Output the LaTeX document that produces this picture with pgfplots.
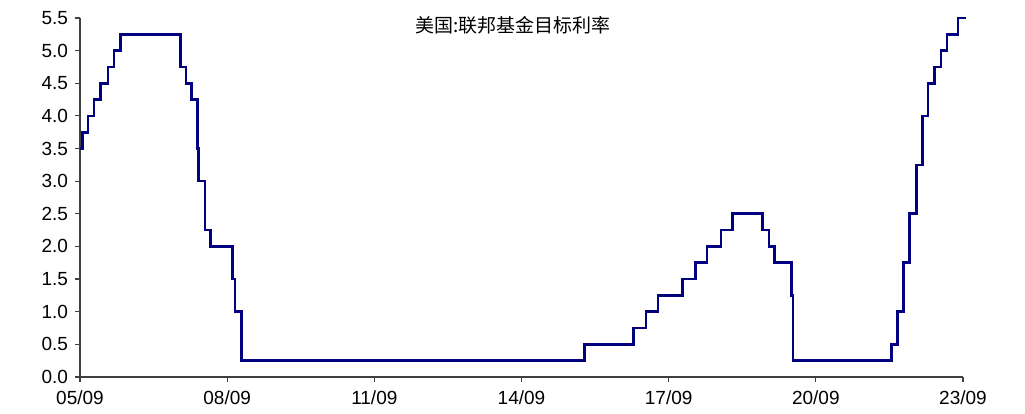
\documentclass[border=0pt]{standalone}
\usepackage{pgfplots}
\pgfplotsset{compat=1.18}
\usepackage{fontspec}
\setmainfont{Liberation Sans}
\newfontfamily\cjk{Noto Sans CJK SC}
\definecolor{navyline}{HTML}{000080}
\definecolor{axgray}{HTML}{404040}
\begin{document}
\begin{tikzpicture}
\begin{axis}[
  width=441.5pt, height=179.5pt, scale only axis,
  xmin=2005.667, xmax=2023.667, ymin=0, ymax=5.5,
  axis x line*=bottom, axis y line*=left,
  axis line style={axgray, line width=0.6pt},
  tick style={axgray, line width=0.6pt},
  tick align=outside, major tick length=2.5pt,
  xtick={2005.667,2008.667,2011.667,2014.667,2017.667,2020.667,2023.667},
  xticklabels={05/09,08/09,11/09,14/09,17/09,20/09,23/09},
  ytick={0,0.5,...,5.5},
  yticklabel style={/pgf/number format/.cd, fixed, fixed zerofill, precision=1},
  /pgf/number format/assume math mode=true,
  ticklabel style={font=\fontsize{9.5}{11}\selectfont},
  xticklabel style={yshift=-1pt},
  clip=false,
]
\addplot[const plot, navyline, line width=1.3pt] coordinates {
(2005.667,3.50) (2005.719,3.75) (2005.833,4.00) (2005.950,4.25)
(2006.082,4.50) (2006.236,4.75) (2006.356,5.00) (2006.490,5.25)
(2007.712,4.75) (2007.830,4.50) (2007.945,4.25) (2008.058,3.50)
(2008.080,3.00) (2008.211,2.25) (2008.329,2.00) (2008.770,1.50)
(2008.827,1.00) (2008.956,0.25) (2015.956,0.50) (2016.953,0.75)
(2017.203,1.00) (2017.449,1.25) (2017.951,1.50) (2018.219,1.75)
(2018.447,2.00) (2018.737,2.25) (2018.966,2.50) (2019.580,2.25)
(2019.712,2.00) (2019.830,1.75) (2020.170,1.25) (2020.203,0.25)
(2022.203,0.50) (2022.337,1.00) (2022.453,1.75) (2022.570,2.50)
(2022.721,3.25) (2022.836,4.00) (2022.953,4.50) (2023.085,4.75)
(2023.222,5.00) (2023.337,5.25) (2023.567,5.50) (2023.720,5.50)
};
\node[font=\fontsize{9.5}{11}\selectfont] at (rel axis cs:0.49,0.98) {\cjk 美国:联邦基金目标利率};
\path (rel axis cs:-0.0906,-0.1031) rectangle (rel axis cs:1.0702,1.0501);
\end{axis}
\end{tikzpicture}
\end{document}
